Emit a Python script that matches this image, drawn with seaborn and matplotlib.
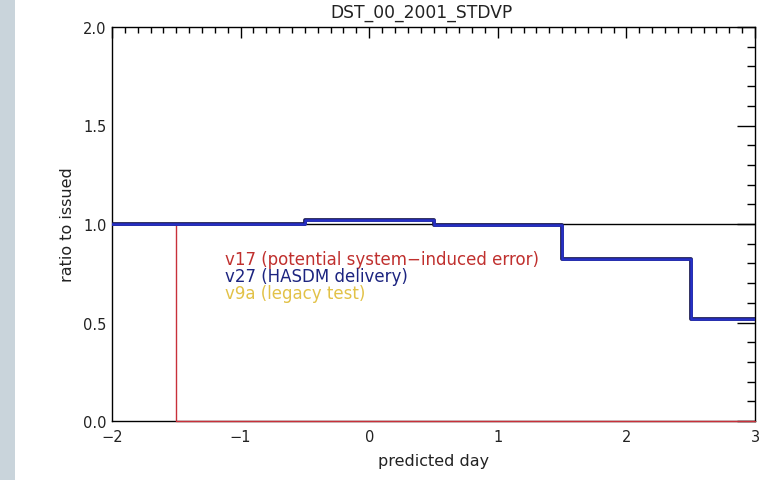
import matplotlib
matplotlib.use("Agg")
import matplotlib.pyplot as plt
import seaborn as sns
import pandas as pd
from matplotlib.patches import Rectangle
from matplotlib.ticker import MultipleLocator

sns.set_theme(style="white")
plt.rcParams['font.family'] = ['DejaVu Sans']

# data
day_edges = [-2.0, -0.5, 0.5, 1.5, 2.5, 3.0]
v27_ratio = [1.0, 1.02, 0.995, 0.82, 0.52, 0.52]
v17_days = [-2.0, -1.5, 3.0]
v17_ratio = [1.0, 0.0, 0.0]
reference_ratio = 1.0
x_ticks = [-2, -1, 0, 1, 2, 3]
x_ticklabels = ["\u22122", "\u22121", "0", "1", "2", "3"]
y_ticks = [0, 0.5, 1.0, 1.5, 2.0]
y_ticklabels = ["0.0", "0.5", "1.0", "1.5", "2.0"]
labels = ["v17 (potential system\u2212induced error)", "v27 (HASDM delivery)", "v9a (legacy test)"]
label_colors = ["#c0302e", "#1c2480", "#e2c248"]

txt = "#222222"

fig = plt.figure(figsize=(7.81, 4.81), dpi=100)
fig.patches.append(Rectangle((0, 0), 15 / 781, 1, transform=fig.transFigure,
                             facecolor="#c9d4db", edgecolor="none", zorder=0))
ax = fig.add_axes([112 / 781, 1 - 422 / 481, (755 - 112) / 781, (422 - 28) / 481])

ax.axhline(reference_ratio, color="black", lw=1.0, zorder=2)

df17 = pd.DataFrame({"day": v17_days, "ratio": v17_ratio})
sns.lineplot(data=df17, x="day", y="ratio", ax=ax, estimator=None, sort=False,
             drawstyle="steps-post", color="#c8303a", lw=1.0, zorder=3, clip_on=False)

df27 = pd.DataFrame({"day": day_edges, "ratio": v27_ratio})
sns.lineplot(data=df27, x="day", y="ratio", ax=ax, estimator=None, sort=False,
             drawstyle="steps-post", color="#1a1a50", lw=2.7, zorder=4)
sns.lineplot(data=df27, x="day", y="ratio", ax=ax, estimator=None, sort=False,
             drawstyle="steps-post", color="#2630c8", lw=1.8, zorder=5)

ax.set_xlim(-2, 3)
ax.set_ylim(0, 2)
ax.set_xticks(x_ticks)
ax.set_xticklabels(x_ticklabels)
ax.set_yticks(y_ticks)
ax.set_yticklabels(y_ticklabels)
ax.xaxis.set_minor_locator(MultipleLocator(0.1))
ax.yaxis.set_minor_locator(MultipleLocator(0.1))
ax.tick_params(axis="both", which="both", direction="in", top=True, right=True,
               colors="black", labelcolor=txt, labelsize=10.5, width=1)
ax.tick_params(axis="x", which="major", length=8, pad=6)
ax.tick_params(axis="x", which="minor", length=4)
ax.tick_params(axis="y", which="major", length=13, pad=4)
ax.tick_params(axis="y", which="minor", length=6)
for s in ax.spines.values():
    s.set_color("black")
    s.set_linewidth(1)
    s.set_zorder(2.5)

ax.set_xlabel("predicted day", fontsize=11.5, labelpad=6, color=txt)
ax.set_ylabel("ratio to issued", fontsize=11.5, labelpad=6, color=txt)
fig.text(422 / 781, 1 - 13 / 481, "DST_00_2001_STDVP", fontsize=12.3,
         ha="center", va="center", color=txt)

ys = [0.82, 0.735, 0.65]
for t, c, yy in zip(labels, label_colors, ys):
    ax.text(-1.12, yy, t, color=c, fontsize=12, va="center", ha="left")

fig.savefig("out.png", dpi=100)
